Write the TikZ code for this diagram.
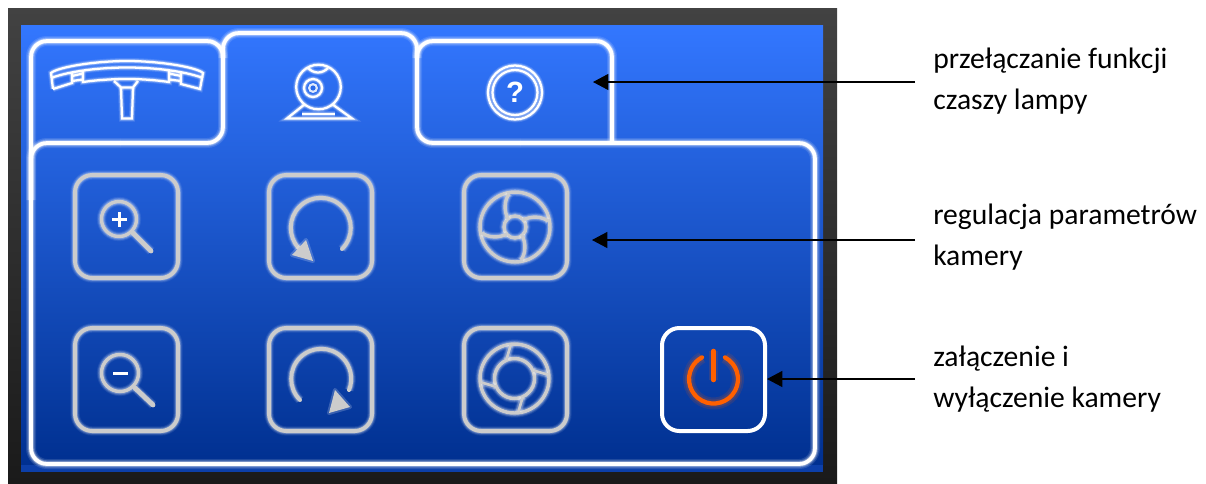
\documentclass[tikz,border=0pt]{standalone}
\usepackage{fontspec}
\setmainfont{Carlito}
\newfontfamily\qfont{Liberation Sans}
\usetikzlibrary{arrows.meta}
\definecolor{screentop}{HTML}{3377FF}
\definecolor{screenbot}{HTML}{003090}
\definecolor{stripblue}{HTML}{0C3FA9}
\definecolor{frametop}{HTML}{424242}
\definecolor{framebot}{HTML}{1A1A1A}
\definecolor{icongray}{HTML}{CCCCCC}
\definecolor{powerorange}{HTML}{FF6000}
\tikzset{
  x=0.75pt,y=-0.75pt,
  brightglow/.style={preaction={draw=white,draw opacity=.12,line width=7.5pt},
                     preaction={draw=white,draw opacity=.22,line width=5.5pt},
                     preaction={draw=white,draw opacity=.35,line width=4pt}},
  softglow/.style={preaction={draw=white,draw opacity=.08,line width=7pt},
                   preaction={draw=white,draw opacity=.14,line width=5.5pt},
                   preaction={draw=white,draw opacity=.22,line width=4.2pt}},
  tabline/.style={draw=white,line width=2.8pt,rounded corners=12pt,brightglow,line join=round},
  thinglow/.style={preaction={draw=white,draw opacity=.14,line width=4.5pt},
                   preaction={draw=white,draw opacity=.28,line width=3pt}},
  lampline/.style={draw=white,line width=1.7pt,line join=miter,thinglow},
  btn/.style={draw=icongray,line width=3pt,rounded corners=13pt,softglow},
  glyph/.style={draw=icongray,line width=3pt,line cap=round,softglow},
  fineglyph/.style={draw=icongray,line width=2.6pt,softglow},
  tiphalo/.style={draw=white,draw opacity=.2,line width=3pt,line join=round},
  pointer/.style={draw=black,line width=0.9pt,-{Triangle[length=11.5pt,width=12pt]}},
  label/.style={anchor=west,inner ysep=0pt,inner xsep=13.5pt,align=left,font=\fontsize{22.2pt}{30.6pt}\selectfont},
}
\begin{document}
\begin{tikzpicture}
\useasboundingbox (0,0) rectangle (1206,483);
% frame and screen
\shade[top color=frametop,bottom color=framebot] (8,8) rectangle (837,483);
\fill[stripblue] (21,460) rectangle (823,472);
\shade[top color=screentop,bottom color=screenbot] (21,25) rectangle (823,464);
% outlines
\draw[tabline] (223,58) -- (223,33) -- (417,33) -- (417,143) -- (520,143);
\draw[tabline] (31,200) -- (31,41) -- (223,41) -- (223,143) -- (120,143);
\draw[tabline] (417,58) -- (417,41) -- (612,41) -- (612,143);
\draw[tabline] (120,143) -- (31,143) -- (31,464) -- (815,464) -- (815,143) -- (520,143);
% lamp icon
\draw[lampline] (53,89) -- (51,73) .. controls (58,67) and (95,61) .. (127,61) .. controls (159,61) and (196,67) .. (203,73) -- (200,89) -- (181,84) -- (181,72);
\draw[lampline] (53,89) -- (72,83) -- (72,72);
\draw[lampline] (51,78) .. controls (70,71) and (100,67.5) .. (127,67.5) .. controls (154,67.5) and (184,71) .. (203,78);
\draw[lampline] (83,71) -- (83,82) .. controls (97,80) and (112,79) .. (127,79) .. controls (142,79) and (155,80) .. (169,82) -- (169,71);
\draw[lampline] (72,76) -- (83,73.5) (181,76) -- (169,73.5);
\draw[lampline] (72,81) -- (83,79.5) (181,81) -- (169,79.5);
\draw[lampline] (114,81) -- (121,87.5) -- (133,87.5) -- (138,81);
\draw[lampline] (121,87.5) -- (122,118.5) -- (132,118.5) -- (133,87.5);
% webcam icon
\draw[lampline] (318.5,87) circle (22.3);
\draw[lampline] (313,88) circle (9);
\fill[white,fill opacity=.85] (313,88) circle (5);
\fill[screentop!80!screenbot] (313,88) circle (2.6);
\draw[lampline] (308,68) .. controls (314,74) and (322,74) .. (328,68);
\draw[lampline] (305,104) -- (287,118.5) -- (352,118.5) -- (332,104);
\draw[lampline,line width=2pt] (302,114) -- (335,114);
% help icon
\draw[lampline] (515,92.5) circle (27);
\draw[lampline] (515,92.5) circle (22.5);
\node[text=white,inner sep=0pt,font=\qfont\bfseries\fontsize{22pt}{22pt}\selectfont] (helpmark) at (515,92.5) {?};
% buttons
\draw[btn] (75,175) rectangle (178,278);
\draw[btn] (269,175) rectangle (372,278);
\draw[btn] (464,175) rectangle (567,278);
\draw[btn] (75,328) rectangle (178,431);
\draw[btn] (269,328) rectangle (372,431);
\draw[btn] (464,328) rectangle (567,431);
\draw[draw=white,line width=3pt,rounded corners=13pt] (662,328) rectangle (765,431);
% zoom in
\draw[fineglyph] (119,219) circle (17.5);
\draw[glyph,line width=3.6pt] (133,233) -- (151,251);
\draw[draw=white,line width=2pt] (112,219.5) -- (127,219.5) (119.5,212) -- (119.5,227);
% zoom out
\draw[fineglyph] (120,373) circle (18.5);
\draw[glyph,line width=3.6pt] (135,388) -- (153,405);
\draw[draw=white,line width=1.6pt] (113,373.5) -- (128,373.5);
% rotate left
\draw[glyph] (342,249) arc[start angle=45,end angle=-222,radius=30];
\draw[tiphalo] (306,240) -- (292,255) -- (313,261) -- cycle;
\fill[icongray] (306,240) -- (292,255) -- (313,261) -- cycle;
% rotate right
\draw[glyph] (300,400) arc[start angle=135,end angle=382,radius=30];
\draw[tiphalo] (335,390) -- (350,407) -- (329,413) -- cycle;
\fill[icongray] (335,390) -- (350,407) -- (329,413) -- cycle;
% open aperture
\begin{scope}[shift={(515,227)}]
\draw[fineglyph] (0,0) circle (35);
\draw[fineglyph] (0,0) circle (11);
\foreach \a in {0,90,180,270}
  \draw[fineglyph,rotate=\a] (-7,-8) .. controls (-11,-16) and (-11,-26) .. (-6,-33);
\end{scope}
% closed aperture
\begin{scope}[shift={(514.5,378.5)}]
\draw[fineglyph] (0,0) circle (34.5);
\draw[fineglyph] (0,0) circle (20);
\foreach \a in {0,90,180,270}
  \draw[fineglyph,line width=2pt,rotate=\a] (-8,-19) -- (-4,-33);
\end{scope}
% power
\begin{scope}[shift={(713.5,379)}]
\draw[draw=powerorange,draw opacity=.12,line width=9pt] (11.5,-21.6) arc[start angle=-62,end angle=242,radius=24.5];
\draw[draw=powerorange,draw opacity=.15,line width=6pt] (11.5,-21.6) arc[start angle=-62,end angle=242,radius=24.5];
\draw[draw=powerorange,draw opacity=.15,line width=7pt] (0,-28) -- (0,1);
\draw[draw=powerorange,line width=3.2pt,line cap=round] (11.5,-21.6) arc[start angle=-62,end angle=242,radius=24.5];
\draw[draw=powerorange,line width=3.4pt,line cap=round] (0,-28) -- (0,1);
\end{scope}
% callouts
\coordinate (tipa) at (593,82);
\coordinate (tipb) at (592,240);
\coordinate (tipc) at (767,379);
\node[label] (lampfn) at (915,81) {przełączanie funkcji\\czaszy lampy};
\node[label] (camparam) at (915,237) {regulacja parametrów\\kamery};
\node[label] (camonoff) at (915,379) {załączenie i\\wyłączenie kamery};
\draw[pointer] (lampfn.west |- tipa) -- (tipa);
\draw[pointer] (camparam.west |- tipb) -- (tipb);
\draw[pointer] (camonoff.west |- tipc) -- (tipc);
\end{tikzpicture}
\end{document}
